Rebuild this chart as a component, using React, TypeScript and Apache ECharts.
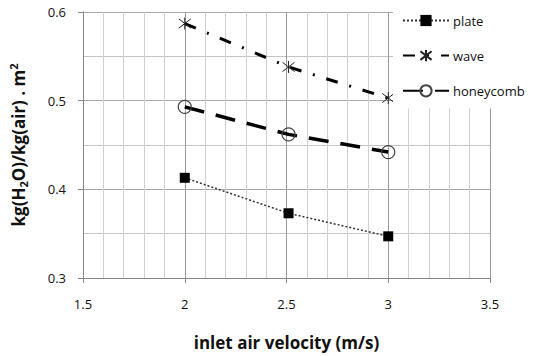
import React, { useEffect, useRef } from "react";
import * as echarts from "echarts";

const velocities = [2, 2.51, 3];
const plateValues = [0.413, 0.373, 0.347];
const waveValues = [0.587, 0.538, 0.503];
const honeycombValues = [0.493, 0.462, 0.442];
const seriesNames = ["plate", "wave", "honeycomb"];
const xTitle = "inlet air velocity (m/s)";

const FONT = "'Open Sans', sans-serif";
const ASTERISK = "path://M0,0L10,10M10,0L0,10M5,-1.5L5,11.5";

function pairs(xs: number[], ys: number[]) {
  return xs.map((x, i) => [x, ys[i]]);
}

export default function App() {
  const ref = useRef<HTMLDivElement>(null);
  useEffect(() => {
    if (!ref.current) return;
    const chart = echarts.init(ref.current, undefined, { renderer: "svg" });
    chart.setOption({
      animation: false,
      backgroundColor: "#fff",
      grid: { left: 79, right: 53, top: 12, bottom: 71, containLabel: false },
      xAxis: {
        type: "value",
        min: 1.5,
        max: 3.5,
        interval: 0.5,
        name: xTitle,
        nameLocation: "middle",
        nameGap: 56,
        nameTextStyle: { fontFamily: FONT, fontSize: 17, fontWeight: "bold", color: "#111" },
        axisLine: { show: true, lineStyle: { color: "#868686", width: 1 } },
        axisTick: { show: true, length: 5, lineStyle: { color: "#868686" } },
        axisLabel: { margin: 19, fontFamily: FONT, fontSize: 13, color: "#111" },
        splitLine: { show: true, lineStyle: { color: "#9a9a9a", width: 1 } },
        minorTick: { show: true, splitNumber: 5, length: 0, lineStyle: { color: "transparent" } },
        minorSplitLine: { show: true, lineStyle: { color: "#d0d0d0", width: 1 } },
      },
      yAxis: {
        type: "value",
        min: 0.3,
        max: 0.6,
        interval: 0.1,
        name: "{a|kg(H}{s|2}{a|O)/kg(air) . m}{p|2}",
        nameLocation: "middle",
        nameGap: 54,
        nameRotate: 90,
        nameTextStyle: {
          fontFamily: FONT,
          fontSize: 17,
          fontWeight: "bold",
          color: "#111",
          rich: {
            a: { fontFamily: FONT, fontSize: 17, fontWeight: "bold", color: "#111", lineHeight: 21, verticalAlign: "middle" },
            s: { fontFamily: FONT, fontSize: 11, fontWeight: "bold", color: "#111", lineHeight: 21, verticalAlign: "bottom", padding: [7, 0, 0, 0] },
            p: { fontFamily: FONT, fontSize: 11, fontWeight: "bold", color: "#111", lineHeight: 21, verticalAlign: "top", padding: [0, 0, 7, 0] },
          },
        },
        axisLine: { show: true, lineStyle: { color: "#868686", width: 1 } },
        axisTick: { show: true, length: 5, lineStyle: { color: "#868686" } },
        axisLabel: {
          margin: 17,
          fontFamily: FONT,
          fontSize: 13,
          color: "#111",
          formatter: (v: number) => v.toFixed(1),
        },
        splitLine: { show: true, lineStyle: { color: "#a8a8a8", width: 1 } },
        minorTick: { show: true, splitNumber: 2, length: 0, lineStyle: { color: "transparent" } },
        minorSplitLine: { show: true, lineStyle: { color: "#c4c4c4", width: 1 } },
      },
      legend: {
        data: seriesNames,
        orient: "vertical",
        left: 393,
        top: 0,
        padding: [14, 24, 11, 9],
        backgroundColor: "#fff",
        itemWidth: 46,
        itemHeight: 14,
        itemGap: 22,
        textStyle: { fontFamily: FONT, fontSize: 13, color: "#111", padding: [0, 0, 0, -1] },
        z: 10,
      },
      series: [
        {
          name: seriesNames[0],
          type: "line",
          data: pairs(velocities, plateValues),
          symbol: "rect",
          symbolSize: 10,
          itemStyle: { color: "#000" },
          lineStyle: { color: "#333", width: 1.5, type: [2, 2] },
          z: 3,
        },
        {
          name: seriesNames[1],
          type: "line",
          data: pairs(velocities, waveValues),
          symbol: ASTERISK,
          symbolSize: 12,
          itemStyle: { color: "transparent", borderColor: "#222", borderWidth: 1 },
          lineStyle: { color: "#000", width: 3, type: [12, 12, 2, 12] },
          z: 3,
        },
        {
          name: seriesNames[2],
          type: "line",
          data: pairs(velocities, honeycombValues),
          symbol: "circle",
          symbolSize: 13,
          itemStyle: { color: "transparent", borderColor: "#444", borderWidth: 1.2 },
          lineStyle: { color: "#000", width: 3.5, type: [20, 12] },
          z: 3,
        },
      ],
    });
    return () => chart.dispose();
  }, []);
  return <div ref={ref} style={{ width: 543, height: 356, position: "absolute", left: 0, top: 0 }} />;
}
